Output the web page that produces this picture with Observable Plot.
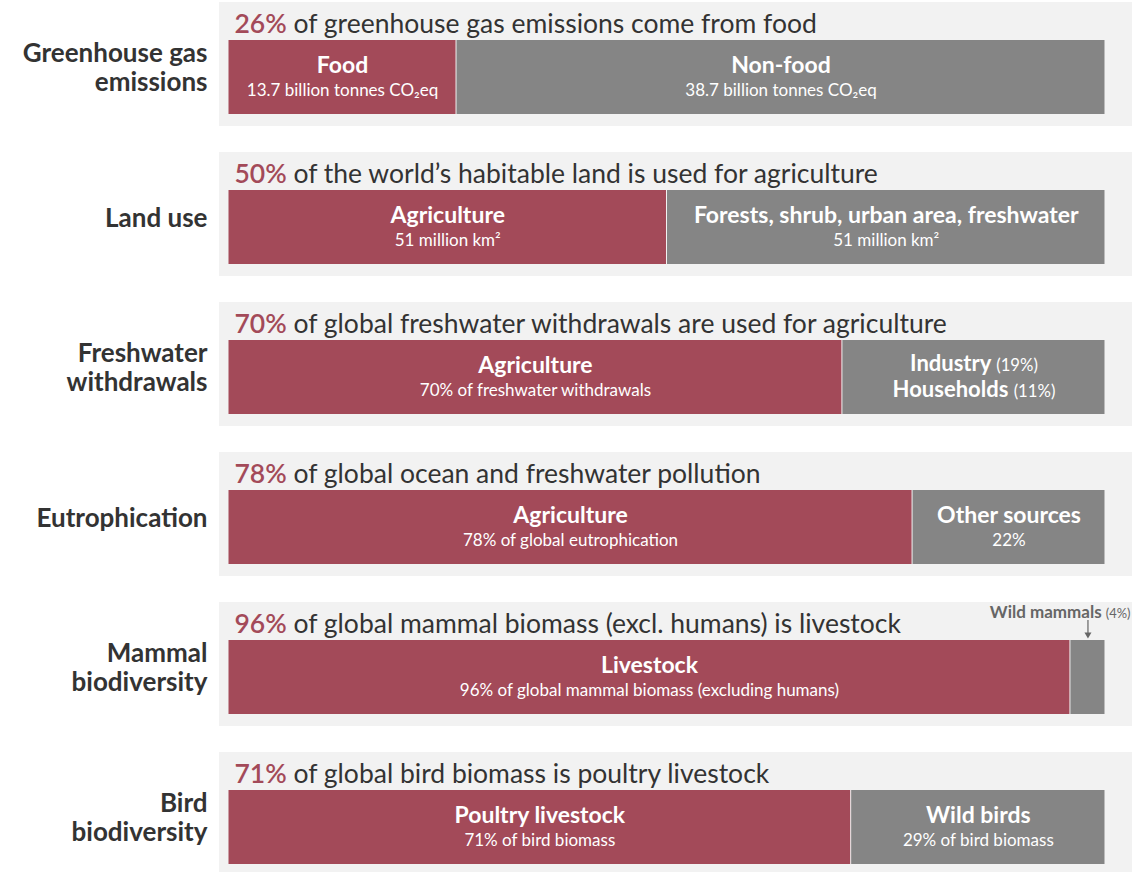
<!DOCTYPE html>
<html>
<head>
<meta charset="utf-8">
<script src="https://cdn.jsdelivr.net/npm/d3@7"></script>
<script src="https://cdn.jsdelivr.net/npm/@observablehq/plot@0.6"></script>
<style>
  html, body { margin: 0; padding: 0; background: #ffffff; }
  #chart { width: 1143px; height: 872px; overflow: hidden; }
  svg text { white-space: pre; }
</style>
</head>
<body>
<div id="chart"></div>
<script>
// ---- data ----
const categories = [
  "Greenhouse gas emissions", "Land use", "Freshwater withdrawals",
  "Eutrophication", "Mammal biodiversity", "Bird biodiversity"
];
const rowLabels = [
  "Greenhouse gas\nemissions", "Land use", "Freshwater\nwithdrawals",
  "Eutrophication", "Mammal\nbiodiversity", "Bird\nbiodiversity"
];
const agriShare = [26, 50, 70, 78, 96, 71];
const otherShare = [74, 50, 30, 22, 4, 29];
const headlinePct = ["26%", "50%", "70%", "78%", "96%", "71%"];
const headlineRest = [
  "of greenhouse gas emissions come from food",
  "of the world’s habitable land is used for agriculture",
  "of global freshwater withdrawals are used for agriculture",
  "of global ocean and freshwater pollution",
  "of global mammal biomass (excl. humans) is livestock",
  "of global bird biomass is poultry livestock"
];
const agriLabels = ["Food", "Agriculture", "Agriculture", "Agriculture", "Livestock", "Poultry livestock"];
const agriSub = [
  "13.7 billion tonnes CO₂eq", "51 million km²", "70% of freshwater withdrawals",
  "78% of global eutrophication", "96% of global mammal biomass (excluding humans)", "71% of bird biomass"
];
const otherLabels = [
  "Non-food", "Forests, shrub, urban area, freshwater", "Industry (19%)\nHouseholds (11%)",
  "Other sources", "", "Wild birds"
];
const otherSub = ["38.7 billion tonnes CO₂eq", "51 million km²", "", "22%", "", "29% of bird biomass"];
const calloutText = ["", "", "", "", "Wild mammals (4%)", ""];

// ---- derived tables ----
const rows = categories.map((c, i) => ({
  category: c, label: rowLabels[i], agri: agriShare[i], other: otherShare[i],
  headline: headlinePct[i] + " " + headlineRest[i], callout: calloutText[i]
}));
const segs = categories.flatMap((c, i) => [
  {category: c, part: "agri", start: 0, value: agriShare[i], label: agriLabels[i], sub: agriSub[i]},
  {category: c, part: "other", start: agriShare[i], value: otherShare[i], label: otherLabels[i], sub: otherSub[i]}
]).map(d => ({...d, end: d.start + d.value, mid: d.start + d.value / 2}));
const callouts = rows.filter(d => d.callout);

const RED = "#a34a59";
const GRAY = "#858585";
const PANEL = "#f2f2f2";
const INK = "#333333";

const chart = Plot.plot({
  width: 1143,
  height: 872,
  margin: 0,
  style: {fontFamily: "Lato, 'Open Sans', sans-serif", background: "transparent", overflow: "visible"},
  x: {domain: [0, 100], range: [228, 1105], axis: null},
  y: {type: "band", domain: categories, range: [38, 866], paddingInner: 0.51, paddingOuter: 0, axis: null},
  color: {domain: ["agri", "other"], range: [RED, GRAY]},
  marks: [
    // panel backgrounds
    Plot.barX(rows, {
      x1: 0, x2: d => d.agri + d.other, y: "category", fill: PANEL,
      insetLeft: -9, insetRight: -27, insetTop: -38, insetBottom: -12
    }),
    // segments
    Plot.barX(segs, {x1: "start", x2: "end", y: "category", fill: "part", insetLeft: 0.5, insetRight: 0.5}),
    // headlines
    Plot.text(rows, {
      x: 0, y: "category", text: "headline", textAnchor: "start", lineAnchor: "middle",
      dx: 6, dy: -53, fontSize: 26.5, fill: INK
    }),
    // row labels
    Plot.text(rows, {
      x: 0, y: "category", text: "label", textAnchor: "end", lineAnchor: "middle",
      dx: -21, dy: -10, fontSize: 26, fontWeight: "bold", fill: INK, lineHeight: 1.08
    }),
    // segment main labels (with subtitle)
    Plot.text(segs.filter(d => d.label && d.sub), {
      x: "mid", y: "category", text: "label", lineAnchor: "middle",
      dy: -12, fontSize: 23, fontWeight: "bold", fill: "white"
    }),
    // segment main labels (two-line, no subtitle)
    Plot.text(segs.filter(d => d.label && !d.sub), {
      x: "mid", y: "category", text: "label", lineAnchor: "middle",
      dy: -2, fontSize: 22, fontWeight: "bold", fill: "white", lineHeight: 1.18
    }),
    // segment subtitles
    Plot.text(segs.filter(d => d.label && d.sub), {
      x: "mid", y: "category", text: "sub", lineAnchor: "middle",
      dy: 13, fontSize: 17, fill: "white"
    }),
    // callout for small segment
    Plot.text(callouts, {
      x: d => d.agri + d.other, y: "category", text: "callout", textAnchor: "end", lineAnchor: "middle",
      dx: 25, dy: -65, fontSize: 17, fontWeight: "bold", fill: "#666666"
    }),
    Plot.tickX(callouts, {
      x: d => d.agri + d.other / 2, y: "category", stroke: "#666666", strokeWidth: 1.2,
      insetTop: -20, insetBottom: 80
    }),
    Plot.dot(callouts, {
      x: d => d.agri + d.other / 2, y: "category", symbol: "triangle", rotate: 180,
      r: 2.6, fill: "#666666", dy: -43
    })
  ]
});

// style percentage parts of headlines in red
const headlineSet = new Set(rows.map(d => d.headline));
const NS = "http://www.w3.org/2000/svg";
chart.querySelectorAll("text").forEach(el => {
  if (el.children.length === 0 && headlineSet.has(el.textContent)) {
    const s = el.textContent;
    const i = s.indexOf(" ");
    el.textContent = "";
    const a = document.createElementNS(NS, "tspan");
    a.setAttribute("fill", RED);
    a.setAttribute("font-weight", "600");
    a.textContent = s.slice(0, i);
    const b = document.createElementNS(NS, "tspan");
    b.textContent = s.slice(i);
    el.appendChild(a); el.appendChild(b);
  }
});
// parenthetical shares in lighter, smaller type
chart.querySelectorAll("text, tspan").forEach(el => {
  if (el.children.length) return;
  const m = el.textContent.match(/^(.*?)\s+(\(\d+%\))$/);
  if (!m) return;
  el.textContent = "";
  const a = document.createElementNS(NS, "tspan");
  a.textContent = m[1] + " ";
  const b = document.createElementNS(NS, "tspan");
  b.setAttribute("font-weight", "normal");
  b.setAttribute("font-size", "0.76em");
  b.textContent = m[2];
  el.appendChild(a); el.appendChild(b);
});

document.getElementById("chart").appendChild(chart);
</script>
</body>
</html>
